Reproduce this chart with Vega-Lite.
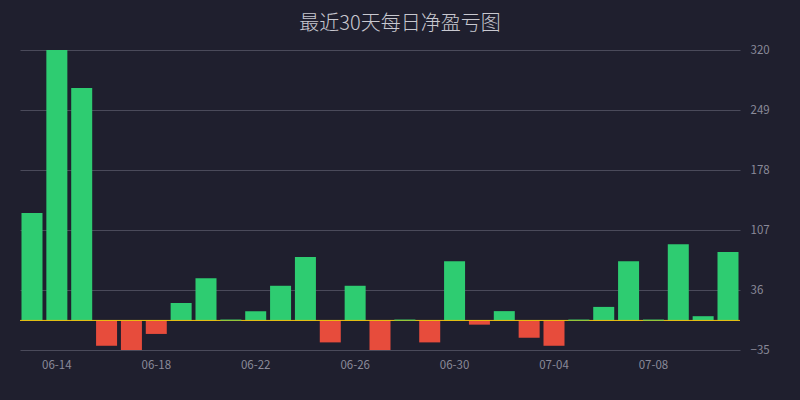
{
  "$schema": "https://vega.github.io/schema/vega-lite/v6.json",
  "width": 720,
  "height": 300,
  "autosize": {"type": "none"},
  "padding": {"left": 20, "top": 50, "right": 60, "bottom": 50},
  "background": "#1f1f2e",
  "title": {
    "text": "最近30天每日净盈亏图",
    "font": "Noto Sans CJK SC",
    "fontSize": 20,
    "fontWeight": 300,
    "color": "#c8c8d0",
    "anchor": "middle",
    "frame": "group",
    "dx": 20,
    "offset": 10
  },
  "config": {
    "view": {"stroke": null},
    "axis": {"labelFont": "Noto Sans CJK SC", "labelColor": "#8a8a99", "labelFontSize": 11.5}
  },
  "data": {
    "values": [
      {"date": "06-13", "pnl": 127},
      {"date": "06-14", "pnl": 320},
      {"date": "06-15", "pnl": 275},
      {"date": "06-16", "pnl": -30},
      {"date": "06-17", "pnl": -36},
      {"date": "06-18", "pnl": -16},
      {"date": "06-19", "pnl": 20.5},
      {"date": "06-20", "pnl": 50},
      {"date": "06-21", "pnl": 0.8},
      {"date": "06-22", "pnl": 11},
      {"date": "06-23", "pnl": 41},
      {"date": "06-24", "pnl": 75},
      {"date": "06-25", "pnl": -26},
      {"date": "06-26", "pnl": 41},
      {"date": "06-27", "pnl": -36},
      {"date": "06-28", "pnl": 0.8},
      {"date": "06-29", "pnl": -26},
      {"date": "06-30", "pnl": 70},
      {"date": "07-01", "pnl": -5},
      {"date": "07-02", "pnl": 11},
      {"date": "07-03", "pnl": -20.5},
      {"date": "07-04", "pnl": -30},
      {"date": "07-05", "pnl": 0.8},
      {"date": "07-06", "pnl": 16},
      {"date": "07-07", "pnl": 70},
      {"date": "07-08", "pnl": 0.8},
      {"date": "07-09", "pnl": 90},
      {"date": "07-10", "pnl": 5},
      {"date": "07-11", "pnl": 81}
    ]
  },
  "layer": [
    {
      "mark": {"type": "bar", "clip": true},
      "encoding": {
        "x": {
          "field": "date",
          "type": "ordinal",
          "sort": null,
          "scale": {"paddingInner": 0.155, "paddingOuter": 0.06},
          "axis": {
            "title": null,
            "domain": false,
            "ticks": false,
            "labelAngle": 0,
            "labelPadding": 9,
            "labelExpr": "indexof(['06-14','06-18','06-22','06-26','06-30','07-04','07-08'], datum.value) >= 0 ? datum.value : ''"
          }
        },
        "y": {
          "field": "pnl",
          "type": "quantitative",
          "scale": {"domain": [-35, 320], "nice": false, "zero": false},
          "axis": {
            "orient": "right",
            "title": null,
            "domain": false,
            "ticks": false,
            "labelPadding": 10,
            "values": [-35, 36, 107, 178, 249, 320],
            "gridColor": "#4a4a5a",
            "gridWidth": 1
          }
        },
        "color": {
          "condition": {"test": "datum.pnl >= 0", "value": "#2ecc71"},
          "value": "#e74c3c"
        }
      }
    },
    {
      "data": {"values": [{"y": 0}]},
      "mark": {"type": "rule", "color": "#f1c40f", "strokeWidth": 1},
      "encoding": {"y": {"field": "y", "type": "quantitative"}}
    },
    {
      "mark": {"type": "bar", "clip": true},
      "transform": [{"filter": "abs(datum.pnl) < 2"}],
      "encoding": {
        "x": {"field": "date", "type": "ordinal", "sort": null},
        "y": {"field": "pnl", "type": "quantitative"},
        "color": {"value": "#2ecc71"}
      }
    }
  ]
}
